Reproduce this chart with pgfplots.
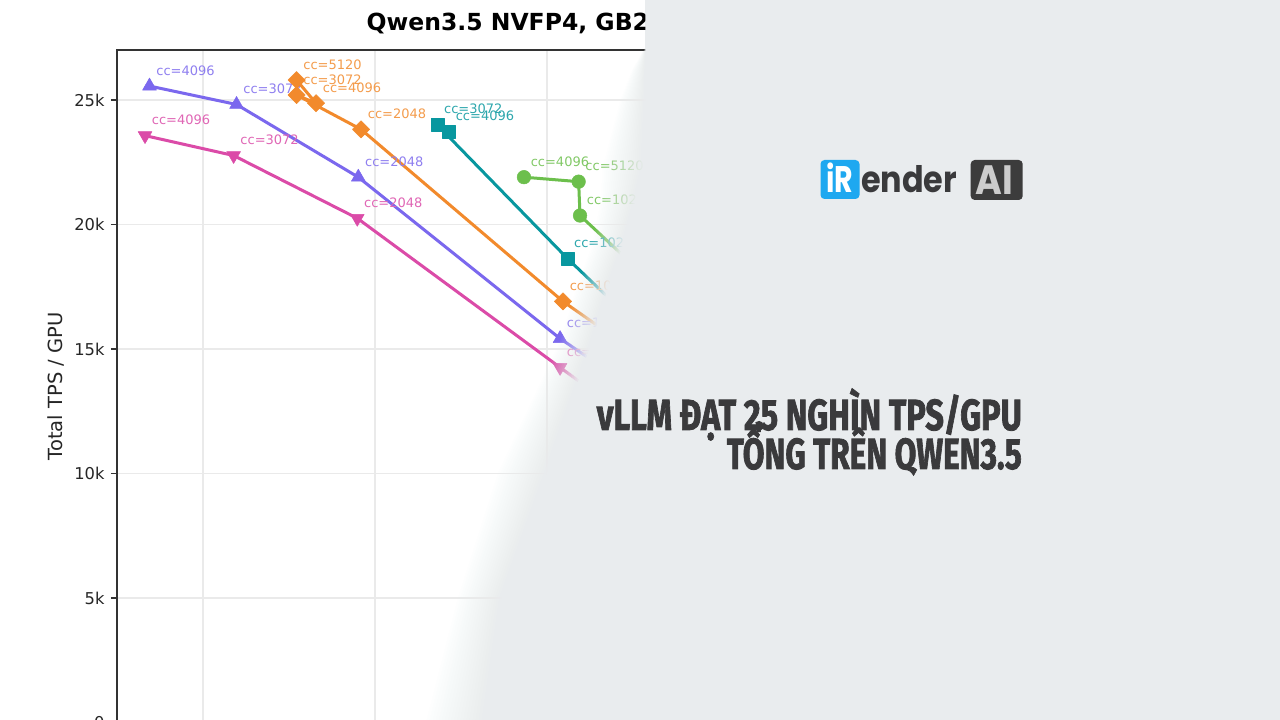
\documentclass[border=0pt]{standalone}
\usepackage{fontspec}
\setmainfont{DejaVu Sans}
\newfontfamily\headfont{Fira Sans}[BoldFeatures={FakeBold=2}]
\newfontfamily\logofont{Poppins}
\usepackage{graphicx}
\usepackage{pgfplots}
\pgfplotsset{compat=1.18}
\usepackage{pgfplotstable}
\usetikzlibrary{calc}

\definecolor{lav}{HTML}{7B68EE}
\definecolor{mag}{HTML}{DB4BA8}
\definecolor{org}{HTML}{F28A2C}
\definecolor{tea}{HTML}{08979F}
\definecolor{grn}{HTML}{6CBF4C}
\definecolor{spine}{HTML}{333333}
\definecolor{gridc}{HTML}{EAEAEA}
\definecolor{bgray}{HTML}{E9ECEE}
\definecolor{logoblue}{HTML}{1EA8F0}
\definecolor{logodark}{HTML}{3C3C3C}
\definecolor{headc}{HTML}{3A3A3C}

\pgfplotstableread{
x y cc
389 11600 512
307.6 15420 1024
190.3 21900 2048
119.5 24820 3072
68.9 25560 4096
}\tlav
\pgfplotstableread{
x y cc
389 10160 512
307.6 14260 1024
189.7 20250 2048
117.8 22770 3072
66.3 23570 4096
}\tmag
\pgfplotstableread{
x y cc
389 13060 512
309.3 16910 1024
191.9 23820 2048
154.4 25200 3072
165.7 24870 4096
154.4 25800 5120
}\torg
\pgfplotstableread{
x y cc
377.3 14320 512
311.8 18640 1024
236.2 24000 3072
243.0 23730 4096
}\ttea
\pgfplotstableread{
x y cc
389 15880 512
319.2 20360 1024
318.4 21720 5120
286.6 21900 4096
}\tgrn

\pgfplotsset{
  cclabel/.style={
    nodes near coords={cc=\pgfplotspointmeta},
    point meta=explicit symbolic,
    nodes near coords style={anchor=base west, inner sep=0pt, xshift=6.6pt, yshift=11pt,
      font=\fontsize{13}{15}\selectfont, text=#1!85!white},
  },
  series/.style={#1, line width=3pt, line join=round, cclabel=#1},
}

\begin{document}
\begin{tikzpicture}
\useasboundingbox (0pt,0pt) rectangle (1280pt,720pt);
\clip (0pt,0pt) rectangle (1280pt,720pt);
\fill[white] (0pt,0pt) rectangle (1280pt,720pt);
\begin{axis}[
  at={(117pt,-2.5pt)}, anchor=south west, scale only axis,
  width=1118pt, height=672.3pt,
  xmin=50, xmax=700, ymin=0, ymax=27000,
  xtick={100,200,...,600}, xticklabels={},
  ytick={0,5000,...,25000}, yticklabels={0,5k,10k,15k,20k,25k},
  scaled y ticks=false, scaled x ticks=false,
  tick align=outside, xtick pos=bottom, ytick pos=left,
  major tick length=6pt,
  tick style={color=spine, line width=1.3pt},
  axis line style={color=spine, line width=1.5pt},
  grid=major, major grid style={color=gridc, line width=1.1pt},
  tick label style={font=\fontsize{16.3}{19}\selectfont, text=black!85},
  yticklabel style={xshift=-3pt},
  ylabel={Total TPS / GPU},
  ylabel style={font=\fontsize{19.5}{22}\selectfont, at={(axis description cs:-0.0492,0.5)}, anchor=base, text=black!85},
]
\addplot[series=lav, mark=triangle*, mark size=8pt, mark options={solid, fill=lav, draw=lav, line width=0.5pt}] table[x=x,y=y,meta=cc]{\tlav};
\addplot[series=mag, mark=triangle*, mark size=8pt, mark options={solid, rotate=180, fill=mag, draw=mag, line width=0.5pt}] table[x=x,y=y,meta=cc]{\tmag};
\addplot[series=org, mark=square*, mark size=6.1pt, mark options={solid, rotate=45, fill=org, draw=org, line width=0.5pt}] table[x=x,y=y,meta=cc]{\torg};
\addplot[series=tea, mark=square*, mark size=6.5pt, mark options={solid, fill=tea, draw=tea, line width=0.5pt}] table[x=x,y=y,meta=cc]{\ttea};
\addplot[series=grn, mark=*, mark size=6.8pt, mark options={solid, fill=grn, draw=grn, line width=0.5pt}] table[x=x,y=y,meta=cc]{\tgrn};
\end{axis}
\node[anchor=base west, inner sep=0pt, font=\bfseries\fontsize{23.5}{27}\selectfont] at (366.5pt,689.5pt) {Qwen3.5 NVFP4, GB200};

% overlay boundary: outer (fade start) and inner (fully covered)
\coordinate (o0) at (645pt,725pt); \coordinate (i0) at (646pt,725pt);
\coordinate (o1) at (645pt,672pt); \coordinate (i1) at (646pt,672pt);
\coordinate (o2) at (632pt,650pt); \coordinate (i2) at (646pt,650pt);
\coordinate (o3) at (620pt,620pt); \coordinate (i3) at (646pt,620pt);
\coordinate (o4) at (602pt,553pt); \coordinate (i4) at (644pt,553pt);
\coordinate (o5) at (600pt,519pt); \coordinate (i5) at (636pt,519pt);
\coordinate (o6) at (592pt,476pt); \coordinate (i6) at (624pt,476pt);
\coordinate (o7) at (575pt,430pt); \coordinate (i7) at (608pt,430pt);
\coordinate (o8) at (560pt,380pt); \coordinate (i8) at (593pt,380pt);
\coordinate (o9) at (497pt,247pt); \coordinate (i9) at (548pt,247pt);
\coordinate (o10) at (457pt,122pt); \coordinate (i10) at (503pt,122pt);
\coordinate (o11) at (424pt,-5pt); \coordinate (i11) at (486pt,-5pt);
\foreach \k in {1,...,20} {
  \pgfmathsetmacro\t{(\k-0.5)/20}
  \pgfmathsetmacro\a{1/(21-\k)}
  \fill[bgray, fill opacity=\a]
    ($(o0)!\t!(i0)$) -- ($(o1)!\t!(i1)$) -- ($(o2)!\t!(i2)$) -- ($(o3)!\t!(i3)$)
    -- ($(o4)!\t!(i4)$) -- ($(o5)!\t!(i5)$) -- ($(o6)!\t!(i6)$) -- ($(o7)!\t!(i7)$)
    -- ($(o8)!\t!(i8)$) -- ($(o9)!\t!(i9)$) -- ($(o10)!\t!(i10)$) -- ($(o11)!\t!(i11)$)
    -- (1290pt,-10pt) -- (1290pt,730pt) -- cycle;
}

% logo
\fill[logoblue, rounded corners=4pt] (820.5pt,521pt) rectangle (859.5pt,560pt);
\node[anchor=base west, inner sep=0pt, text=white, font=\logofont\bfseries\fontsize{37}{40}\selectfont] at (826pt,527pt) {\resizebox{27pt}{\height}{iR}};
\node[anchor=base west, inner sep=0pt, text=headc, font=\logofont\bfseries\fontsize{36.5}{40}\selectfont] at (861pt,527pt) {\resizebox{96pt}{\height}{ender}};
\fill[logodark, rounded corners=4pt] (970.7pt,520pt) rectangle (1022.7pt,560pt);
\node[anchor=base west, inner sep=0pt, text=black!20, font=\logofont\bfseries\fontsize{41}{44}\selectfont] at (975.5pt,525pt) {\resizebox{37.5pt}{\height}{AI}};

% headline
\node[anchor=base east, inner sep=0pt, text=headc, font=\headfont\bfseries\fontsize{43.5}{48}\selectfont] at (1022pt,290pt) {\resizebox{425pt}{\height}{vLLM ĐẠT 25 NGHÌN TPS/GPU}};
\node[anchor=base east, inner sep=0pt, text=headc, font=\headfont\bfseries\fontsize{43.5}{48}\selectfont] at (1022pt,251pt) {\resizebox{295pt}{\height}{TỔNG TRÊN QWEN3.5}};
\end{tikzpicture}
\end{document}
